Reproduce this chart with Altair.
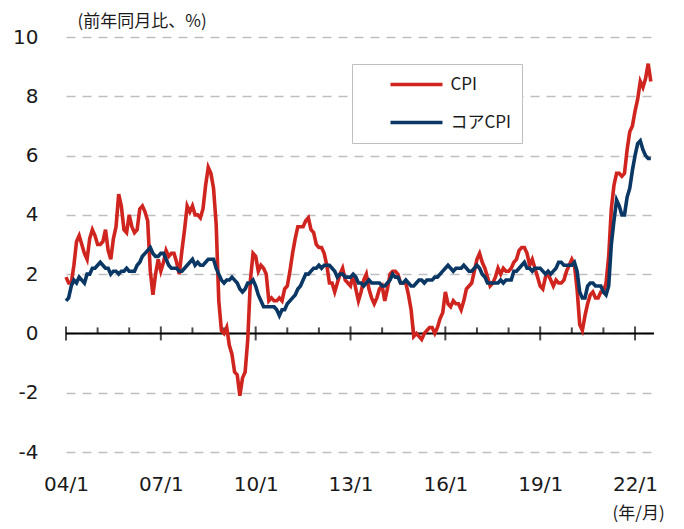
import altair as alt
import pandas as pd

start_year = 2004

cpi = [
    1.9, 1.7, 1.7, 2.3, 3.1, 3.3, 3.0, 2.7, 2.5, 3.2, 3.5, 3.3,
    3.0, 3.0, 3.1, 3.5, 2.8, 2.5, 3.2, 3.6, 4.7, 4.3, 3.5, 3.4,
    4.0, 3.6, 3.4, 3.5, 4.2, 4.3, 4.1, 3.8, 2.1, 1.3, 2.0, 2.5,
    2.1, 2.4, 2.8, 2.6, 2.7, 2.7, 2.4, 2.0, 2.8, 3.5, 4.3, 4.1,
    4.3, 4.0, 4.0, 3.9, 4.2, 5.0, 5.6, 5.4, 4.9, 3.7, 1.1, 0.1,
    0.0, 0.2, -0.4, -0.7, -1.3, -1.4, -2.1, -1.5, -1.3, -0.2, 1.8, 2.7,
    2.6, 2.1, 2.3, 2.2, 2.0, 1.1, 1.2, 1.1, 1.1, 1.2, 1.1, 1.5,
    1.6, 2.1, 2.7, 3.2, 3.6, 3.6, 3.6, 3.8, 3.9, 3.5, 3.4, 3.0,
    2.9, 2.9, 2.7, 2.3, 1.7, 1.7, 1.4, 1.7, 2.0, 2.2, 1.8, 1.7,
    1.6, 2.0, 1.5, 1.1, 1.4, 1.8, 2.0, 1.5, 1.2, 1.0, 1.2, 1.5,
    1.6, 1.1, 1.5, 2.0, 2.1, 2.1, 2.0, 1.7, 1.7, 1.7, 1.3, 0.8,
    -0.1, 0.0, -0.1, -0.2, 0.0, 0.1, 0.2, 0.2, 0.0, 0.2, 0.5, 0.7,
    1.4, 1.0, 0.9, 1.1, 1.0, 1.0, 0.8, 1.1, 1.5, 1.6, 1.7, 2.1,
    2.5, 2.7, 2.4, 2.2, 1.9, 1.6, 1.7, 1.9, 2.2, 2.0, 2.2, 2.1,
    2.1, 2.2, 2.4, 2.5, 2.8, 2.9, 2.9, 2.7, 2.3, 2.5, 2.2, 1.9,
    1.6, 1.5, 1.9, 2.0, 1.8, 1.6, 1.8, 1.7, 1.7, 1.8, 2.1, 2.3,
    2.5, 2.3, 1.5, 0.3, 0.1, 0.6, 1.0, 1.3, 1.4, 1.2, 1.2, 1.4,
    1.4, 1.7, 2.6, 4.2, 5.0, 5.4, 5.4, 5.3, 5.4, 6.2, 6.8, 7.0,
    7.5, 7.9, 8.5, 8.3, 8.6, 9.1, 8.5,
]

core = [
    1.1, 1.2, 1.6, 1.8, 1.7, 1.9, 1.8, 1.7, 2.0, 2.0, 2.2, 2.2,
    2.3, 2.4, 2.3, 2.2, 2.2, 2.0, 2.1, 2.1, 2.0, 2.1, 2.1, 2.2,
    2.1, 2.1, 2.1, 2.3, 2.4, 2.6, 2.7, 2.8, 2.9, 2.7, 2.6, 2.6,
    2.7, 2.7, 2.5, 2.3, 2.2, 2.2, 2.2, 2.1, 2.1, 2.2, 2.3, 2.4,
    2.5, 2.3, 2.4, 2.3, 2.3, 2.4, 2.5, 2.5, 2.5, 2.2, 2.0, 1.8,
    1.7, 1.8, 1.8, 1.9, 1.8, 1.7, 1.5, 1.4, 1.5, 1.7, 1.7, 1.8,
    1.6, 1.3, 1.1, 0.9, 0.9, 0.9, 0.9, 0.9, 0.8, 0.6, 0.8, 0.8,
    1.0, 1.1, 1.2, 1.3, 1.5, 1.6, 1.8, 2.0, 2.0, 2.1, 2.2, 2.2,
    2.3, 2.2, 2.3, 2.3, 2.3, 2.2, 2.1, 1.9, 2.0, 2.0, 1.9, 1.9,
    1.9, 2.0, 1.9, 1.7, 1.7, 1.6, 1.7, 1.8, 1.7, 1.7, 1.7, 1.7,
    1.6, 1.6, 1.7, 1.8, 2.0, 1.9, 1.9, 1.7, 1.7, 1.8, 1.7, 1.6,
    1.6, 1.7, 1.8, 1.8, 1.7, 1.8, 1.8, 1.8, 1.9, 1.9, 2.0, 2.1,
    2.2, 2.3, 2.2, 2.1, 2.2, 2.2, 2.2, 2.3, 2.2, 2.1, 2.1, 2.2,
    2.3, 2.2, 2.0, 1.9, 1.7, 1.7, 1.7, 1.7, 1.7, 1.8, 1.7, 1.8,
    1.8, 1.8, 2.1, 2.1, 2.2, 2.3, 2.4, 2.2, 2.2, 2.1, 2.2, 2.2,
    2.2, 2.1, 2.0, 2.1, 2.0, 2.1, 2.2, 2.4, 2.4, 2.3, 2.3, 2.3,
    2.3, 2.4, 2.1, 1.4, 1.2, 1.2, 1.6, 1.7, 1.7, 1.6, 1.6, 1.6,
    1.4, 1.3, 1.6, 3.0, 3.8, 4.5, 4.3, 4.0, 4.0, 4.6, 4.9, 5.5,
    6.0, 6.4, 6.5, 6.2, 6.0, 5.9, 5.9,
]

series_names = ["CPI", "コアCPI"]
series_colors = ["#D0241F", "#0A3764"]
major_years = [2004, 2007, 2010, 2013, 2016, 2019, 2022]
minor_years = [y for y in range(2005, 2023) if y not in major_years]
y_ticks = [-4, -2, 0, 2, 4, 6, 8, 10]

rows = []
for name, vals in zip(series_names, [cpi, core]):
    for i, v in enumerate(vals):
        rows.append({"t": start_year + i / 12, "v": v, "series": name})
df = pd.DataFrame(rows)

x_scale = alt.Scale(domain=[2004, 2022.6], nice=False, zero=False)
y_scale = alt.Scale(domain=[-4, 10], nice=False, zero=False)

jp_font = "Noto Sans CJK JP"

x_axis = alt.Axis(
    values=major_years,
    labelExpr="slice(toString(datum.value), 2) + '/1'",
    domain=False, ticks=False, tickSize=0, grid=False,
    labelPadding=22, labelFlush=False, labelOverlap=False,
    title="(年/月)", titleX=546, titleY=61, titleAlign="left",
    titleBaseline="middle", titleFont=jp_font, titleFontSize=17,
    titleFontWeight="normal", titleColor="#1a1a1a",
)
y_axis = alt.Axis(
    values=y_ticks, labelExpr="toString(datum.value)",
    domain=False, ticks=False, tickSize=0,
    labelPadding=28, grid=True, gridDash=[9, 7], gridColor="#BFBFBF",
    gridWidth=1.5,
    title="(前年同月比、%)", titleAngle=0, titleX=11, titleY=-16,
    titleAlign="left", titleBaseline="middle", titleFont=jp_font,
    titleFontSize=17, titleFontWeight="normal", titleColor="#1a1a1a",
)

legend = alt.Legend(
    orient="none", legendX=286, legendY=27, title=None,
    symbolType="stroke", symbolSize=2704, symbolStrokeWidth=3.5,
    clipHeight=20, rowPadding=18, padding=10.5,
    strokeColor="#BFBFBF", fillColor="white",
    labelFont=jp_font, labelFontSize=17, labelColor="#1a1a1a",
    symbolOffset=26, labelOffset=6,
    labelExpr="datum.label + '\u2003\u2009'",
)

zero_line = alt.Chart(pd.DataFrame({"y": [0]})).mark_rule(
    color="black", strokeWidth=2
).encode(y=alt.Y("y:Q", scale=y_scale, axis=y_axis))

major_ticks = alt.Chart(pd.DataFrame({"t": major_years, "y": 0})).mark_tick(
    orient="vertical", size=14, thickness=2, color="black"
).encode(
    x=alt.X("t:Q", scale=x_scale, axis=x_axis),
    y=alt.Y("y:Q", scale=y_scale, axis=y_axis),
)

minor_ticks = alt.Chart(pd.DataFrame({"t": minor_years, "y": 0})).mark_tick(
    orient="vertical", size=6, thickness=2, color="black", yOffset=-3
).encode(
    x=alt.X("t:Q", scale=x_scale, axis=x_axis),
    y=alt.Y("y:Q", scale=y_scale, axis=y_axis),
)

lines = alt.Chart(df).mark_line(strokeWidth=3.6).encode(
    x=alt.X("t:Q", scale=x_scale, axis=x_axis),
    y=alt.Y("v:Q", scale=y_scale, axis=y_axis),
    color=alt.Color(
        "series:N",
        scale=alt.Scale(domain=series_names, range=series_colors),
        legend=legend,
    ),
)

chart = alt.layer(zero_line, major_ticks, minor_ticks, lines).properties(
    width=588, height=415,
    autosize=alt.AutoSizeParams(type="none"),
    padding={"left": 58, "top": 29, "right": 20, "bottom": 74},
).configure_view(stroke=None).configure_axis(
    labelFont="DejaVu Sans", labelFontSize=20, labelColor="#1a1a1a"
)

chart.save("out.html", embed_options={"renderer": "svg", "actions": False})
